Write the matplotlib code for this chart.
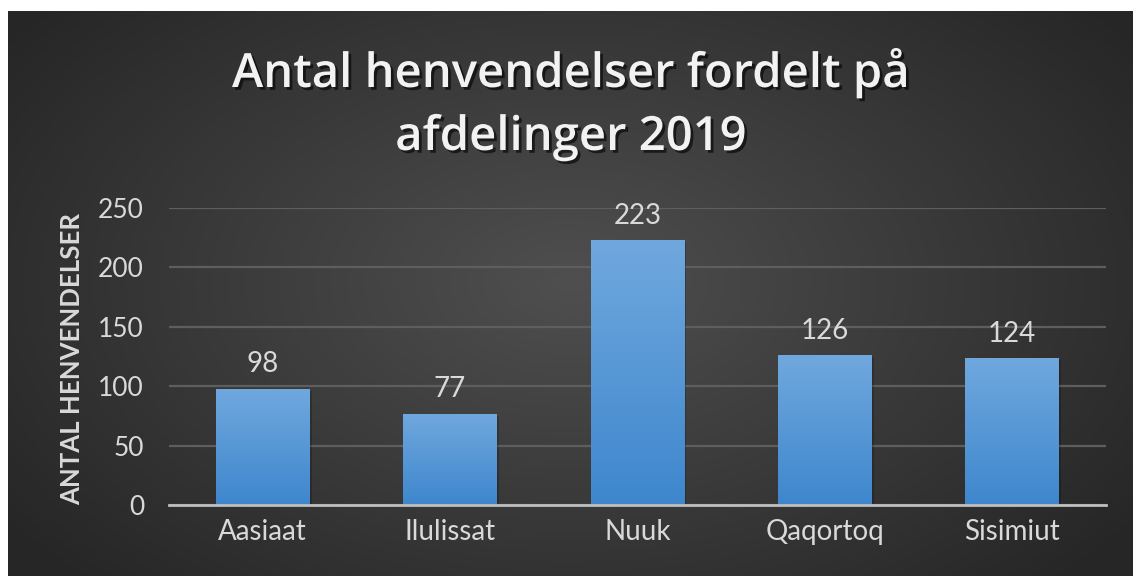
import numpy as np
import matplotlib
matplotlib.use('Agg')
import matplotlib.pyplot as plt
import matplotlib.patheffects as pe

# data for plotting
afdelinger = ['Aasiaat', 'Ilulissat', 'Nuuk', 'Qaqortoq', 'Sisimiut']
henvendelser = [98, 77, 223, 126, 124]
y_ticks = [0, 50, 100, 150, 200, 250]
title_lines = ['Antal henvendelser fordelt på', 'afdelinger 2019']

W, H = 1134, 576
fig = plt.figure(figsize=(W / 100, H / 100), dpi=100)
fig.patch.set_facecolor('white')

# dark radial background (white margin at top/left like the screenshot)
bg = fig.add_axes([8 / W, 0, 1 - 9 / W, 1 - 11 / H], zorder=0)
gx, gy = np.meshgrid(np.linspace(0, 1, 400), np.linspace(0, 1, 200))
r = np.sqrt(((gx - 0.5) / 0.62) ** 2 + ((gy - 0.48) / 0.75) ** 2)
shade = np.clip(0.31 - 0.16 * r, 0.15, 0.31)
bg.imshow(np.dstack([shade] * 3), extent=[0, 1, 0, 1], aspect='auto', interpolation='bicubic')
bg.set_axis_off()

ax = fig.add_axes([169 / W, 71 / H, 937 / W, 297 / H], zorder=1)
ax.patch.set_alpha(0)

x = np.arange(len(afdelinger))
bars = ax.bar(x, henvendelser, width=0.5, color='#5b9bd5', zorder=3)

# vertical blue gradient inside each bar
grad = np.linspace(0, 1, 100).reshape(-1, 1)
top = np.array([112, 168, 222]) / 255
bot = np.array([62, 135, 205]) / 255
img = top + (bot - top) * grad[..., None]
for b in bars:
    b.set_path_effects([pe.withSimplePatchShadow(offset=(1.5, -1.5), shadow_rgbFace='black', alpha=0.2)])
    im = ax.imshow(img, extent=[b.get_x(), b.get_x() + b.get_width(), 0, b.get_height()],
                   aspect='auto', zorder=4)
    im.set_clip_path(b)

ax.set_xlim(-0.5, len(afdelinger) - 0.5)
ax.set_ylim(0, 250)
ax.set_yticks(y_ticks)
ax.set_xticks(x)
ax.set_xticklabels(afdelinger)

ax.yaxis.grid(True, color='#5e5e5e', linewidth=1.6, zorder=1)
ax.set_axisbelow(True)
for s in ['top', 'right', 'left']:
    ax.spines[s].set_visible(False)
ax.spines['bottom'].set_color('#bfbfbf')
ax.spines['bottom'].set_linewidth(2)
ax.spines['bottom'].set_zorder(5)

ax.tick_params(axis='both', length=0, colors='#d9d9d9')
ax.tick_params(axis='y', pad=18, labelsize=19)
ax.tick_params(axis='x', pad=10, labelsize=20)
for lab in ax.get_xticklabels() + ax.get_yticklabels():
    lab.set_fontfamily('Lato')

ax.set_ylabel('ANTAL HENVENDELSER', fontsize=18.5, fontweight='bold', color='#d9d9d9',
              fontfamily='Lato')
ax.yaxis.set_label_coords(-0.091, 0.49)

ax.bar_label(bars, padding=8, color='#d9d9d9', fontsize=20, fontfamily='Lato')

shadow = [pe.withSimplePatchShadow(offset=(2, -2), shadow_rgbFace='black', alpha=0.6)]
fig.text(571 / W, 1 - 87 / H, title_lines[0], ha='center', va='baseline', fontsize=34,
         fontweight='semibold', color='#f2f2f2', fontfamily='Open Sans', path_effects=shadow)
fig.text(571 / W, 1 - 150 / H, title_lines[1], ha='center', va='baseline', fontsize=34,
         fontweight='semibold', color='#f2f2f2', fontfamily='Open Sans', path_effects=shadow)

fig.savefig('out.png', dpi=100, facecolor=fig.get_facecolor())
